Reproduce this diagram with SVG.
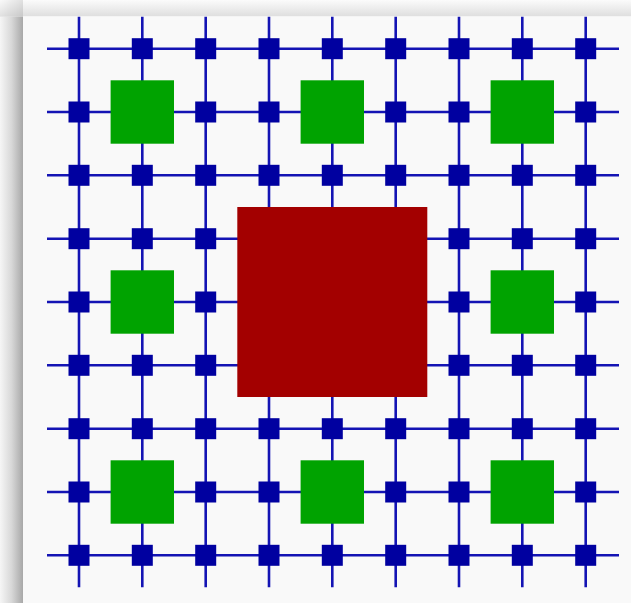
<svg xmlns="http://www.w3.org/2000/svg" width="631" height="603" viewBox="0 0 631 603">
  <defs>
    <linearGradient id="gl" x1="0" y1="0" x2="1" y2="0">
      <stop offset="0" stop-color="#f6f6f6"/>
      <stop offset="0.5" stop-color="#d8d8d8"/>
      <stop offset="1" stop-color="#a8a8a8"/>
    </linearGradient>
    <linearGradient id="gt" x1="0" y1="0" x2="0" y2="1">
      <stop offset="0" stop-color="#fbfbfb"/>
      <stop offset="1" stop-color="#dedede"/>
    </linearGradient>
    <linearGradient id="gc" x1="0" y1="0" x2="1" y2="1">
      <stop offset="0" stop-color="#fafafa"/>
      <stop offset="1" stop-color="#c8c8c8"/>
    </linearGradient>
    <style>
      .ln { stroke: #1414b4; stroke-width: 2.6; fill: none; }
      .nd { fill: #0000a0; }
      .gr { fill: #00a300; }
      .rd { fill: #a30000; }
    </style>
  </defs>
  <rect x="0" y="0" width="631" height="603" fill="#ffffff"/>
  <rect x="0" y="0" width="631" height="16.5" fill="url(#gt)"/>
  <rect x="0" y="16.5" width="23" height="586.5" fill="url(#gl)"/>
  <rect x="0" y="0" width="23" height="16.5" fill="url(#gc)"/>
  <rect x="23" y="16.5" width="608" height="586.5" fill="#f9f9f9"/>

  <g id="connectors">
    <path class="ln" d="M47 48.7H619M47 112H619M47 175.3H619M47 238.7H619M47 302H619M47 365.3H619M47 428.7H619M47 492H619M47 555.3H619"/>
    <path class="ln" d="M79 16.7V587.3M142.3 16.7V587.3M205.7 16.7V587.3M269 16.7V587.3M332.3 16.7V587.3M395.7 16.7V587.3M459 16.7V587.3M522.3 16.7V587.3M585.7 16.7V587.3"/>
  </g>

  <g id="nodes">
    <g id="r0">
      <rect class="nd" x="68.5" y="38.2" width="21" height="21"/>
      <rect class="nd" x="131.8" y="38.2" width="21" height="21"/>
      <rect class="nd" x="195.2" y="38.2" width="21" height="21"/>
      <rect class="nd" x="258.5" y="38.2" width="21" height="21"/>
      <rect class="nd" x="321.8" y="38.2" width="21" height="21"/>
      <rect class="nd" x="385.2" y="38.2" width="21" height="21"/>
      <rect class="nd" x="448.5" y="38.2" width="21" height="21"/>
      <rect class="nd" x="511.8" y="38.2" width="21" height="21"/>
      <rect class="nd" x="575.2" y="38.2" width="21" height="21"/>
    </g>
    <g id="r1">
      <rect class="nd" x="68.5" y="101.5" width="21" height="21"/>
      <rect class="nd" x="195.2" y="101.5" width="21" height="21"/>
      <rect class="nd" x="258.5" y="101.5" width="21" height="21"/>
      <rect class="nd" x="385.2" y="101.5" width="21" height="21"/>
      <rect class="nd" x="448.5" y="101.5" width="21" height="21"/>
      <rect class="nd" x="575.2" y="101.5" width="21" height="21"/>
    </g>
    <g id="r2">
      <rect class="nd" x="68.5" y="164.8" width="21" height="21"/>
      <rect class="nd" x="131.8" y="164.8" width="21" height="21"/>
      <rect class="nd" x="195.2" y="164.8" width="21" height="21"/>
      <rect class="nd" x="258.5" y="164.8" width="21" height="21"/>
      <rect class="nd" x="321.8" y="164.8" width="21" height="21"/>
      <rect class="nd" x="385.2" y="164.8" width="21" height="21"/>
      <rect class="nd" x="448.5" y="164.8" width="21" height="21"/>
      <rect class="nd" x="511.8" y="164.8" width="21" height="21"/>
      <rect class="nd" x="575.2" y="164.8" width="21" height="21"/>
    </g>
    <g id="r3">
      <rect class="nd" x="68.5" y="228.2" width="21" height="21"/>
      <rect class="nd" x="131.8" y="228.2" width="21" height="21"/>
      <rect class="nd" x="195.2" y="228.2" width="21" height="21"/>
      <rect class="nd" x="448.5" y="228.2" width="21" height="21"/>
      <rect class="nd" x="511.8" y="228.2" width="21" height="21"/>
      <rect class="nd" x="575.2" y="228.2" width="21" height="21"/>
    </g>
    <g id="r4">
      <rect class="nd" x="68.5" y="291.5" width="21" height="21"/>
      <rect class="nd" x="195.2" y="291.5" width="21" height="21"/>
      <rect class="nd" x="448.5" y="291.5" width="21" height="21"/>
      <rect class="nd" x="575.2" y="291.5" width="21" height="21"/>
    </g>
    <g id="r5">
      <rect class="nd" x="68.5" y="354.8" width="21" height="21"/>
      <rect class="nd" x="131.8" y="354.8" width="21" height="21"/>
      <rect class="nd" x="195.2" y="354.8" width="21" height="21"/>
      <rect class="nd" x="448.5" y="354.8" width="21" height="21"/>
      <rect class="nd" x="511.8" y="354.8" width="21" height="21"/>
      <rect class="nd" x="575.2" y="354.8" width="21" height="21"/>
    </g>
    <g id="r6">
      <rect class="nd" x="68.5" y="418.2" width="21" height="21"/>
      <rect class="nd" x="131.8" y="418.2" width="21" height="21"/>
      <rect class="nd" x="195.2" y="418.2" width="21" height="21"/>
      <rect class="nd" x="258.5" y="418.2" width="21" height="21"/>
      <rect class="nd" x="321.8" y="418.2" width="21" height="21"/>
      <rect class="nd" x="385.2" y="418.2" width="21" height="21"/>
      <rect class="nd" x="448.5" y="418.2" width="21" height="21"/>
      <rect class="nd" x="511.8" y="418.2" width="21" height="21"/>
      <rect class="nd" x="575.2" y="418.2" width="21" height="21"/>
    </g>
    <g id="r7">
      <rect class="nd" x="68.5" y="481.5" width="21" height="21"/>
      <rect class="nd" x="195.2" y="481.5" width="21" height="21"/>
      <rect class="nd" x="258.5" y="481.5" width="21" height="21"/>
      <rect class="nd" x="385.2" y="481.5" width="21" height="21"/>
      <rect class="nd" x="448.5" y="481.5" width="21" height="21"/>
      <rect class="nd" x="575.2" y="481.5" width="21" height="21"/>
    </g>
    <g id="r8">
      <rect class="nd" x="68.5" y="544.8" width="21" height="21"/>
      <rect class="nd" x="131.8" y="544.8" width="21" height="21"/>
      <rect class="nd" x="195.2" y="544.8" width="21" height="21"/>
      <rect class="nd" x="258.5" y="544.8" width="21" height="21"/>
      <rect class="nd" x="321.8" y="544.8" width="21" height="21"/>
      <rect class="nd" x="385.2" y="544.8" width="21" height="21"/>
      <rect class="nd" x="448.5" y="544.8" width="21" height="21"/>
      <rect class="nd" x="511.8" y="544.8" width="21" height="21"/>
      <rect class="nd" x="575.2" y="544.8" width="21" height="21"/>
    </g>
    <g id="green">
      <rect id="g1" class="gr" x="110.6" y="80.3" width="63.4" height="63.4"/>
      <rect id="g2" class="gr" x="300.6" y="80.3" width="63.4" height="63.4"/>
      <rect id="g3" class="gr" x="490.6" y="80.3" width="63.4" height="63.4"/>
      <rect id="g4" class="gr" x="110.6" y="270.3" width="63.4" height="63.4"/>
      <rect id="g5" class="gr" x="490.6" y="270.3" width="63.4" height="63.4"/>
      <rect id="g6" class="gr" x="110.6" y="460.3" width="63.4" height="63.4"/>
      <rect id="g7" class="gr" x="300.6" y="460.3" width="63.4" height="63.4"/>
      <rect id="g8" class="gr" x="490.6" y="460.3" width="63.4" height="63.4"/>
    </g>
    <rect id="center" class="rd" x="237.3" y="207" width="190" height="190"/>
  </g>
</svg>
